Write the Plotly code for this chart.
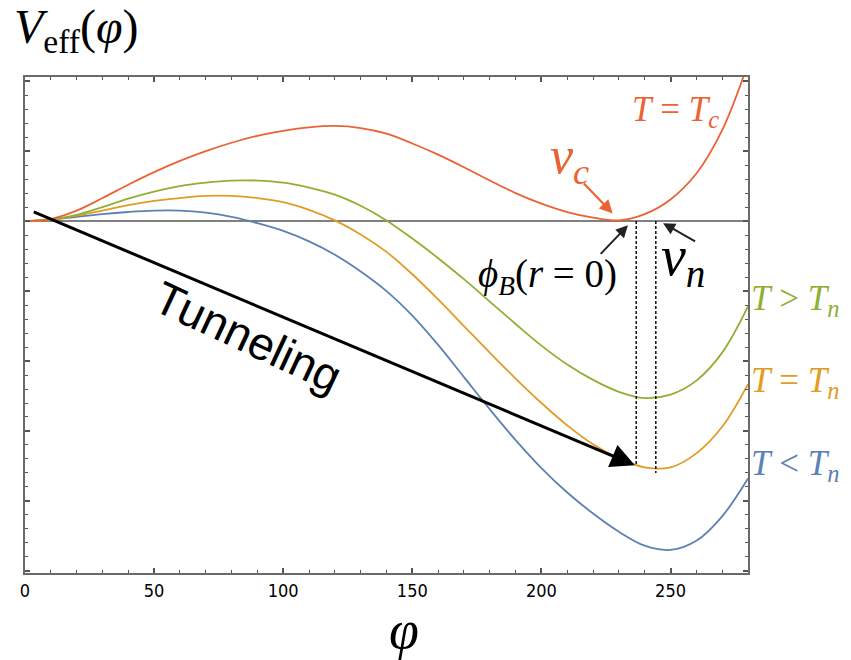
import plotly.graph_objects as go

# ---------------- data ----------------
phi = [0, 10, 20, 30, 40, 50, 60, 70, 80, 90, 100, 110, 120, 130, 140,
       150, 160, 170, 180, 190, 200, 210, 220, 230, 240, 250, 260, 270, 280]

v_t_eq_tc = [0, 0.03, 0.15, 0.33, 0.52, 0.70, 0.86, 1.00, 1.12, 1.22, 1.29,
             1.34, 1.36, 1.33, 1.25, 1.11, 0.95, 0.77, 0.58, 0.40, 0.25, 0.13,
             0.05, 0.01, 0.10, 0.31, 0.68, 1.30, 2.25]

v_t_gt_tn = [0, 0.02, 0.09, 0.20, 0.32, 0.42, 0.50, 0.55, 0.58, 0.58, 0.55,
             0.48, 0.38, 0.22, 0.01, -0.25, -0.53, -0.83, -1.15, -1.47, -1.78,
             -2.05, -2.27, -2.44, -2.53, -2.48, -2.28, -1.88, -1.22]

v_t_eq_tn = [0, 0.02, 0.08, 0.15, 0.23, 0.29, 0.33, 0.36, 0.36, 0.33, 0.27,
             0.16, 0.01, -0.19, -0.44, -0.76, -1.12, -1.50, -1.88, -2.25, -2.60,
             -2.92, -3.19, -3.39, -3.52, -3.52, -3.32, -2.94, -2.33]

v_t_lt_tn = [0, 0.02, 0.06, 0.10, 0.13, 0.15, 0.15, 0.12, 0.06, -0.03, -0.14,
             -0.29, -0.48, -0.72, -1.00, -1.35, -1.77, -2.23, -2.69, -3.13, -3.53,
             -3.88, -4.18, -4.44, -4.64, -4.70, -4.57, -4.22, -3.68]

# dashed markers: phi_B(r=0) and v_n
marker_x = [236.7, 244.3]
marker_top = [0.0, 0.0]
marker_bottom = [-3.50, -3.60]

# tunneling arrow (tail -> head)
tunnel_tail = (2.8, 0.14)
tunnel_head = (236.2, -3.49)

x_ticks = [0, 50, 100, 150, 200, 250]

RED = "#EB6235"
GREEN = "#8FB032"
ORANGE = "#E19C24"
BLUE = "#5E81B5"
SERIF = "Liberation Serif, Times New Roman, serif"
NARROW = "Liberation Sans Narrow, Arial Narrow, DejaVu Sans Condensed, sans-serif"

fig = go.Figure()

for vals, col in [(v_t_lt_tn, BLUE), (v_t_eq_tn, ORANGE), (v_t_gt_tn, GREEN), (v_t_eq_tc, RED)]:
    fig.add_trace(go.Scatter(x=phi, y=vals, mode="lines",
                             line=dict(color=col, width=1.8, shape="spline", smoothing=1.0),
                             showlegend=False, hoverinfo="skip"))

for mx, mt, mb in zip(marker_x, marker_top, marker_bottom):
    fig.add_trace(go.Scatter(x=[mx, mx], y=[mt, mb], mode="lines",
                             line=dict(color="black", width=1.4, dash="3px,2px"),
                             showlegend=False, hoverinfo="skip"))

ann = []
# Tunneling arrow
ann.append(dict(x=tunnel_head[0], y=tunnel_head[1], ax=tunnel_tail[0], ay=tunnel_tail[1],
                xref="x", yref="y", axref="x", ayref="y", text="", showarrow=True,
                arrowhead=2, arrowsize=1.6, arrowwidth=3, arrowcolor="black", standoff=0))
ann.append(dict(x=86.5, y=-1.65, xref="x", yref="y", text="Tunneling", showarrow=False,
                textangle=25, font=dict(family="Liberation Sans, Arial, sans-serif", size=46, color="black")))
# v_c arrow + label
ann.append(dict(x=227.6, y=0.11, ax=215.9, ay=0.56, xref="x", yref="y", axref="x", ayref="y",
                text="", showarrow=True, arrowhead=2, arrowsize=1.2, arrowwidth=2.2,
                arrowcolor=RED, standoff=0))
ann.append(dict(x=211.0, y=0.88, xref="x", yref="y", text="<i>v</i><sub><i>c</i></sub>",
                showarrow=False, font=dict(family=SERIF, size=52, color=RED)))
ann.append(dict(x=252.0, y=1.56, xref="x", yref="y", text="<i>T</i> = <i>T</i><sub><i>c</i></sub>",
                showarrow=False, font=dict(family=SERIF, size=35, color=RED)))
# phi_B arrow + label
ann.append(dict(x=233.5, y=-0.06, ax=222.4, ay=-0.49, xref="x", yref="y", axref="x", ayref="y",
                text="", showarrow=True, arrowhead=2, arrowsize=1.2, arrowwidth=2,
                arrowcolor="#222222", standoff=0))
ann.append(dict(x=202.5, y=-0.79, xref="x", yref="y",
                text="<i>ϕ</i><sub><i>B</i></sub>(<i>r</i> = 0)",
                showarrow=False, font=dict(family=SERIF, size=39, color="black")))
# v_n arrow + label
ann.append(dict(x=247.1, y=-0.03, ax=260.1, ay=-0.30, xref="x", yref="y", axref="x", ayref="y",
                text="", showarrow=True, arrowhead=2, arrowsize=1.2, arrowwidth=2,
                arrowcolor="#222222", standoff=0))
ann.append(dict(x=255.0, y=-0.55, xref="x", yref="y", text="<i>v</i><sub><i>n</i></sub>",
                showarrow=False, font=dict(family=SERIF, size=56, color="black")))
# right side labels
for txt, yv, col in [("<i>T</i> > <i>T</i><sub><i>n</i></sub>", -1.13, GREEN),
                     ("<i>T</i> = <i>T</i><sub><i>n</i></sub>", -2.31, ORANGE),
                     ("<i>T</i> < <i>T</i><sub><i>n</i></sub>", -3.49, BLUE)]:
    ann.append(dict(x=1.0, y=yv, xref="paper", yref="y", xanchor="left", xshift=1,
                    text=txt, showarrow=False, font=dict(family=SERIF, size=35, color=col)))
# axis titles
ann.append(dict(x=-0.018, y=1.095, xref="paper", yref="paper", xanchor="left", yanchor="middle",
                text="<i>V</i><sub>eff</sub>(<i>φ</i>)", showarrow=False,
                font=dict(family=SERIF, size=48, color="black")))
ann.append(dict(x=0.524, y=-0.115, xref="paper", yref="paper", xanchor="center", yanchor="middle",
                text="<i>φ</i>", showarrow=False, font=dict(family=SERIF, size=54, color="black")))

fig.update_layout(
    width=851, height=660,
    margin=dict(l=25, r=103, t=77, b=87),
    paper_bgcolor="white", plot_bgcolor="white",
    annotations=ann,
    xaxis=dict(range=[0, 280], tickmode="array", tickvals=x_ticks,
               ticktext=[str(v) for v in x_ticks],
               ticks="inside", ticklen=5, tickwidth=1.5, tickcolor="#555555",
               minor=dict(dtick=10, tick0=0, ticks="inside", ticklen=3, tickwidth=1.2, tickcolor="#555555"),
               showline=True, linecolor="#6a6a6a", linewidth=2, mirror="ticks",
               showgrid=False, zeroline=False,
               tickfont=dict(family=NARROW, size=18, color="black")),
    yaxis=dict(range=[-5.03, 2.06], tickmode="linear", tick0=0, dtick=1,
               showticklabels=False,
               ticks="inside", ticklen=5, tickwidth=1.5, tickcolor="#555555",
               minor=dict(dtick=0.2, tick0=0, ticks="inside", ticklen=3, tickwidth=1.2, tickcolor="#555555"),
               showline=True, linecolor="#6a6a6a", linewidth=2, mirror="ticks",
               showgrid=False, zeroline=True, zerolinecolor="#808080", zerolinewidth=1.6),
)

fig.write_html("out.html", config={"displayModeBar": False},
               post_script="document.body.style.margin='0px';")
